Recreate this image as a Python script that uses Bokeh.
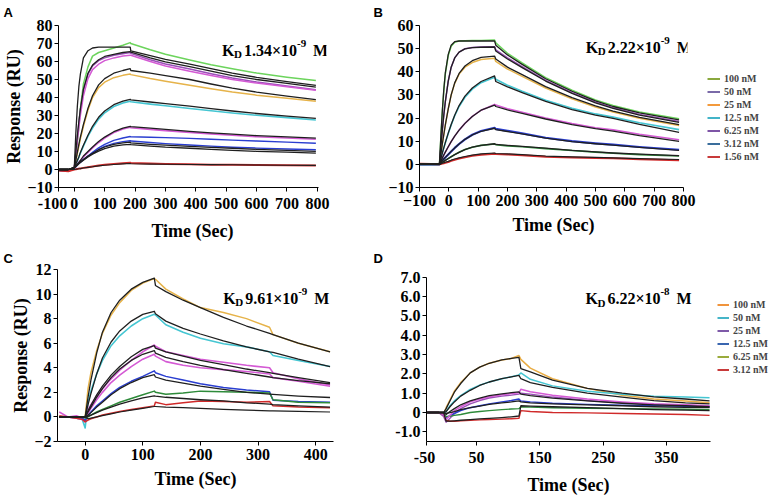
import numpy as np
from bokeh.plotting import figure
from bokeh.models import Range1d, FixedTicker, Label, Legend, LegendItem
from bokeh.layouts import row, column
from bokeh.embed import file_html
from bokeh.resources import INLINE

SERIF = "Liberation Serif"
SANS = "Liberation Sans"
FIT = "#1f1f1f"

# ---------------- Panel A  (KD 1.34e-9 M) ----------------
A_time = [-50, -20, 0, 5, 10, 15, 20, 30, 45, 60, 80, 100, 130, 160, 184,
          186, 250, 300, 380, 450, 520, 600, 700, 795]
A_100 = [-0.5, -0.8, 1, 7, 15, 24, 34, 47.5, 57, 63, 65, 66, 67.5, 69, 70.5,
         70, 66.5, 64, 60.8, 58.2, 56, 53.6, 51.3, 49.4]
A_100_fit = [0, 0, 1, 20, 35, 46, 53, 62, 66, 67.5, 68, 68, 68, 68, 68,
             65.9, 63.2, 61.2, 58.6, 56, 53.5, 51.2, 48.8, 46.7]
A_50 = [-0.5, -0.5, 1, 9, 18, 26, 33, 44, 53, 57.5, 60.5, 62, 63.5, 64.3, 65,
        64.5, 61, 58.6, 55.8, 53.2, 50.8, 48.6, 46.4, 44.3]
A_50_fit = [0, 0, 1, 9.5, 18.5, 26.5, 33.5, 44.5, 53.5, 58, 61, 62.8, 64, 65, 65.5,
            65.2, 62, 59.8, 57.2, 54.6, 52.2, 50, 47.8, 45.8]
A_50b = [-0.5, -0.5, 1, 8, 16, 23, 30, 41, 50.5, 55.5, 58.5, 60.5, 62, 63, 63.5,
         63.5, 60, 57.5, 54.6, 52.2, 50, 48, 46, 44]
A_25 = [-0.5, -0.5, 1, 5, 9, 13, 17, 24, 33, 40, 45.5, 48.5, 51, 52.3, 53,
        52.7, 50.5, 49, 46.8, 44.8, 43, 41.3, 39.6, 37.9]
A_25_fit = [0, 0, 1, 5, 9.5, 14, 18, 25, 34, 41, 47, 50.5, 53.5, 55, 56,
            55, 53.5, 52.2, 50, 47.5, 45.2, 43, 40.8, 38.8]
A_12 = [-0.5, -0.5, 1, 2.8, 4.8, 6.8, 9, 13, 18.5, 23, 28, 31.5, 35, 37, 37.9,
        37.6, 36.3, 35.4, 33.9, 32.6, 31.4, 30.1, 28.8, 27.5]
A_12_fit = [0, 0, 1, 3, 5, 7, 9.5, 13.5, 19, 24, 29, 32.5, 36, 38, 39,
            38.7, 37.5, 36.6, 35.2, 33.8, 32.5, 31.1, 29.7, 28.4]
A_6 = [-0.5, -0.5, 1, 2, 3, 4, 5, 7, 9.5, 12, 15, 17.5, 20.5, 22.5, 23.5,
       23.2, 22.3, 21.6, 20.6, 19.8, 19, 18.2, 17.5, 16.8]
A_6_fit = [0, 0, 1, 2, 3, 4, 5, 7.5, 10, 12.5, 15.5, 18, 21, 23, 24,
           23.8, 23, 22.3, 21.2, 20.4, 19.6, 18.8, 18.1, 17.4]
A_3 = [-0.5, -1, 0.5, 1.5, 2.5, 3.3, 4, 5.5, 7.5, 9.5, 12, 14, 16.2, 17.5, 18.3,
       18.2, 17.9, 17.7, 17.3, 16.8, 16.3, 15.8, 15.2, 14.6]
A_3b = [-0.5, -0.5, 0.5, 1.5, 2.5, 3.3, 4, 5.5, 7.3, 9, 11, 12.8, 14.5, 15.5, 16,
        15.8, 15, 14.4, 13.6, 13, 12.4, 11.9, 11.4, 11]
A_3_fit = [0, 0, 1, 1.8, 2.6, 3.4, 4.2, 5.6, 7.5, 9, 11, 12.5, 14, 14.8, 15.2,
           14.8, 14, 13.5, 12.9, 12.3, 11.8, 11.2, 10.6, 10.1]
A_3b_fit = [0, 0, 1, 1.7, 2.4, 3.2, 3.9, 5.2, 7, 8.5, 10.2, 11.6, 13, 13.7, 14,
            13.8, 13, 12.4, 11.8, 11.2, 10.6, 10.1, 9.6, 9.1]
A_1 = [-0.5, -1, 0, 0.1, 0.3, 0.5, 0.6, 0.9, 1.3, 1.7, 2.2, 2.6, 3.1, 3.5, 3.8,
       3.6, 3.3, 3.1, 2.9, 2.7, 2.6, 2.45, 2.3, 2.2]
A_1_fit = [0, 0, 0, 0.1, 0.3, 0.4, 0.5, 0.8, 1.2, 1.5, 2, 2.4, 2.8, 3.1, 3.3,
           3.2, 3, 2.9, 2.8, 2.7, 2.6, 2.5, 2.4, 2.3]

# ---------------- Panel B  (KD 2.22e-9 M) ----------------
B_time = [-100, -60, -32, -27, -22, -17, -12, -2, 8, 20, 35, 55, 80, 110, 156,
          160, 200, 250, 330, 420, 500, 560, 650, 785]
B_100 = [0, 0, 0, 12, 23, 32, 39, 47, 51, 52.8, 53.3, 53.4, 53.5, 53.5, 53.7,
         52.5, 48, 43.8, 37.5, 32, 27.8, 25.4, 22.6, 19.7]
B_100_fit = [0, 0, 0, 12.5, 23.5, 32.5, 39.5, 47.5, 51.5, 53, 53.3, 53.3, 53.3, 53.3, 53.3,
             51.5, 47.3, 43.2, 37, 31.6, 27.4, 25, 22.2, 19.2]
B_50 = [0, 0, 0, 8, 15, 21.5, 27, 36, 42, 46, 48.5, 50, 50.5, 50.7, 50.8,
        49.5, 46, 42.2, 36.3, 31, 26.9, 24.5, 21.6, 18.5]
B_50_fit = [0, 0, 0, 8, 15, 21.5, 27, 36, 42, 46, 48.5, 49.9, 50.4, 50.6, 50.7,
            49, 45.5, 41.8, 36, 30.7, 26.6, 24.2, 21.3, 18.1]
B_25 = [0, 0, 0, 4.5, 9, 13, 17, 24, 30, 35, 39, 42, 44, 45.3, 45.8,
        44.5, 41.2, 38, 33, 28.3, 24.8, 22.6, 19.9, 16.8]
B_25_fit = [0, 0, 0, 4.5, 9, 13, 17, 24, 30, 35.2, 39.3, 42.5, 44.8, 46.2, 46.8,
            45.5, 42, 38.8, 33.6, 28.8, 25.3, 23, 20.3, 17.2]
B_12 = [0, 0, 0, 2.5, 5, 7.2, 9.3, 13.3, 17, 21, 25, 29, 32.5, 35.3, 37.6,
        36.8, 34.2, 31.6, 27.7, 24.2, 21.8, 20.4, 18, 15]
B_12_fit = [0, 0, 0, 2.5, 5, 7.2, 9.4, 13.5, 17.2, 21.2, 25.4, 29.5, 33, 35.8, 38.2,
            35.8, 33.5, 31, 27.2, 23.7, 21.3, 19.9, 17.3, 13.8]
B_6 = [0, 0, 0, 1.4, 2.8, 4.1, 5.3, 7.6, 9.8, 12.2, 14.8, 17.7, 20.7, 23.4, 25.9,
       25.6, 24, 22.5, 20, 17.6, 15.8, 14.9, 13, 10.6]
B_6_fit = [0, 0, 0, 1.4, 2.8, 4.1, 5.3, 7.6, 9.8, 12.2, 14.8, 17.7, 20.7, 23.4, 25.6,
           25, 23.5, 22, 19.6, 17.2, 15.4, 14.4, 12.4, 9.9]
B_3 = [0, 0, 0, 0.8, 1.6, 2.3, 3, 4.3, 5.6, 7.1, 8.8, 10.8, 12.8, 14.4, 15.8,
       15.3, 14.5, 13.4, 11.5, 10, 9.1, 8.5, 7.5, 6.3]
B_3_fit = [0, 0, 0, 0.8, 1.6, 2.3, 3, 4.3, 5.6, 7.1, 8.8, 10.8, 12.7, 14.3, 15.6,
           15, 14.2, 13.2, 11.3, 9.8, 8.9, 8.3, 7.3, 6]
B_2 = [0, 0, 0, 0.45, 0.9, 1.3, 1.7, 2.5, 3.3, 4.2, 5.2, 6.4, 7.4, 8.2, 8.8,
       8.5, 8.0, 7.6, 6.8, 6.0, 5.3, 4.8, 4.2, 3.6]
B_2_fit = [0, 0, 0, 0.45, 0.9, 1.3, 1.7, 2.5, 3.3, 4.2, 5.2, 6.4, 7.4, 8.2, 8.9,
           8.6, 8.2, 7.8, 7, 6, 5.4, 4.9, 4.4, 3.8]
B_1 = [0.3, 0.2, 0, 0.1, 0.3, 0.5, 0.7, 1.0, 1.5, 2.0, 2.5, 3.1, 3.7, 4.2, 4.6,
       4.5, 4.3, 3.9, 3.3, 3.0, 2.7, 2.6, 2.2, 1.8]
B_1_fit = [0, 0, 0, 0.25, 0.5, 0.7, 0.9, 1.3, 1.8, 2.3, 2.8, 3.4, 4, 4.5, 4.9,
           4.7, 4.5, 4.2, 3.6, 3.2, 3, 2.8, 2.5, 2.1]
B_labels = ["100 nM", "50 nM", "25 nM", "12.5 nM", "6.25 nM", "3.12 nM", "1.56 nM"]
B_legend_colors = ["#8aa83e", "#7a6aa8", "#f39a3c", "#43b4c8", "#7e55a6", "#3a6e9c", "#c83a3a"]

# ---------------- Panel C  (KD 9.61e-9 M) ----------------
C_time = [-45, -30, -15, -5, 0, 5, 10, 20, 30, 45, 60, 80, 100, 120,
          122, 140, 170, 200, 240, 280, 320, 326, 370, 425]
C_y = [0, 0, 0, -0.1, 0, 2.3, 3.6, 5.4, 6.8, 8.3, 9.3, 10.3, 10.9, 11.26,
       11.2, 10.4, 9.6, 8.9, 8.5, 8.0, 7.3, 6.7, 6.0, 5.3]
C_y_fit = [0, 0, 0, 0, 0, 1.6, 3.0, 5.2, 6.9, 8.5, 9.5, 10.4, 10.95, 11.3,
           10.7, 10.2, 9.5, 8.9, 8.1, 7.4, 6.8, 6.7, 6.0, 5.3]
C_c = [0, 0, -0.1, -0.2, -0.9, 1.2, 2.1, 3.5, 4.6, 5.8, 6.6, 7.4, 8.0, 8.35,
       8.3, 7.5, 6.9, 6.4, 5.95, 5.7, 5.3, 5.0, 4.6, 4.1]
C_c_fit = [0, 0, 0, 0, 0, 1.0, 1.9, 3.5, 4.8, 6.1, 7.0, 7.8, 8.35, 8.6,
           8.4, 7.8, 7.2, 6.75, 6.2, 5.7, 5.3, 5.25, 4.7, 4.1]
C_m1 = [0.4, 0.0, 0.1, -0.1, -0.3, 0.6, 1.0, 1.7, 2.3, 3.1, 3.8, 4.6, 5.3, 5.85,
        5.75, 5.3, 5.0, 4.7, 4.45, 4.2, 4.0, 3.6, 3.1, 2.6]
C_m1_fit = [0, 0, 0, 0, 0, 0.5, 0.95, 1.8, 2.5, 3.4, 4.1, 4.9, 5.5, 5.8,
            5.6, 5.3, 4.95, 4.6, 4.25, 3.9, 3.6, 3.55, 3.2, 2.8]
C_m2 = [0, 0, -0.1, -0.2, -0.4, 0.3, 0.7, 1.4, 2.0, 2.8, 3.4, 4.1, 4.7, 5.1,
        4.95, 4.5, 4.2, 4.0, 3.85, 3.7, 3.5, 3.2, 2.9, 2.5]
C_m2_fit = [0, 0, 0, 0, 0, 0.4, 0.8, 1.6, 2.3, 3.2, 3.9, 4.6, 5.1, 5.4,
            5.2, 4.85, 4.5, 4.2, 3.85, 3.55, 3.25, 3.2, 2.95, 2.7]
C_b = [0, 0, 0, -0.1, -0.3, 0.1, 0.4, 0.9, 1.3, 1.9, 2.4, 2.9, 3.3, 3.75,
       3.6, 3.3, 3.0, 2.7, 2.4, 2.2, 2.05, 1.35, 1.25, 1.2]
C_b_fit = [0, 0, 0, 0, 0, 0.15, 0.35, 0.8, 1.2, 1.8, 2.3, 2.8, 3.2, 3.44,
           3.25, 3.0, 2.75, 2.5, 2.25, 2.0, 1.85, 1.83, 1.7, 1.58]
C_g = [0, 0, 0, 0, -0.1, 0, 0.15, 0.4, 0.6, 0.9, 1.2, 1.5, 1.8, 2.1,
       2.0, 1.85, 1.95, 2.1, 2.05, 2.0, 1.95, 1.4, 1.2, 1.15]
C_g_fit = [0, 0, 0, 0, 0, 0.05, 0.15, 0.35, 0.55, 0.8, 1.05, 1.3, 1.55, 1.72,
           1.7, 1.6, 1.5, 1.4, 1.3, 1.15, 1.05, 1.0, 0.9, 0.8]
C_r = [0.1, 0, -0.1, -0.2, -0.4, -0.25, -0.15, 0.0, 0.15, 0.3, 0.45, 0.6, 0.75, 0.9,
       1.2, 1.0, 1.15, 1.3, 1.25, 1.2, 1.25, 0.9, 0.8, 0.75]
C_r_fit = [0, 0, 0, 0, 0, -0.15, -0.1, 0.0, 0.1, 0.25, 0.4, 0.55, 0.7, 0.85,
           0.85, 0.8, 0.75, 0.7, 0.62, 0.55, 0.5, 0.49, 0.45, 0.4]

# ---------------- Panel D  (KD 6.22e-8 M) ----------------
D_time = [-28, -10, -2, 2, 8, 15, 25, 40, 55, 70, 90, 105, 117,
          120, 135, 170, 225, 280, 330, 380, 418]
D_100 = [0, 0, -0.1, 0.25, 0.65, 1.1, 1.55, 2.05, 2.35, 2.55, 2.72, 2.8, 2.95,
         2.75, 2.3, 1.75, 1.25, 0.9, 0.7, 0.6, 0.5]
D_100_fit = [0, 0, 0, 0.2, 0.6, 1.05, 1.5, 2.05, 2.35, 2.55, 2.72, 2.8, 2.86,
             2.27, 2.1, 1.68, 1.25, 1.0, 0.81, 0.7, 0.6]
D_50 = [0, 0, -0.1, 0.05, 0.35, 0.6, 0.88, 1.2, 1.42, 1.58, 1.75, 1.85, 1.95,
        2.05, 1.72, 1.38, 1.1, 0.95, 0.84, 0.8, 0.76]
D_50_fit = [0, 0, 0, 0.05, 0.3, 0.55, 0.85, 1.15, 1.4, 1.58, 1.75, 1.85, 1.92,
            1.75, 1.55, 1.3, 1.0, 0.8, 0.62, 0.5, 0.45]
D_25m = [0, 0, -0.1, -0.35, -0.15, 0.1, 0.3, 0.55, 0.7, 0.82, 0.92, 0.98, 1.02,
         1.2, 1.08, 0.9, 0.7, 0.55, 0.45, 0.4, 0.35]
D_25 = [0, 0, -0.2, -0.5, -0.3, -0.05, 0.2, 0.45, 0.62, 0.75, 0.85, 0.9, 0.95,
        1.0, 0.95, 0.8, 0.62, 0.5, 0.42, 0.38, 0.33]
D_25_fit = [0, 0, 0, -0.1, 0.05, 0.2, 0.4, 0.6, 0.75, 0.87, 0.97, 1.03, 1.07,
            0.95, 0.88, 0.75, 0.6, 0.48, 0.4, 0.35, 0.3]
D_12 = [0, 0, -0.05, -0.3, -0.15, -0.05, 0.1, 0.25, 0.35, 0.45, 0.55, 0.62, 0.7,
        0.6, 0.55, 0.48, 0.42, 0.38, 0.35, 0.32, 0.3]
D_12_fit = [0, 0, 0, -0.05, 0.0, 0.05, 0.15, 0.25, 0.33, 0.42, 0.5, 0.55, 0.6,
            0.55, 0.5, 0.45, 0.4, 0.35, 0.3, 0.27, 0.25]
D_6 = [0, 0, -0.1, -0.2, -0.2, -0.15, -0.1, 0.0, 0.05, 0.1, 0.15, 0.18, 0.2,
       0.3, 0.28, 0.25, 0.22, 0.2, 0.18, 0.17, 0.15]
D_6_fit = [0, 0, 0, -0.45, -0.45, -0.43, -0.4, -0.37, -0.33, -0.3, -0.26, -0.22, -0.18,
           0.35, 0.33, 0.3, 0.25, 0.2, 0.15, 0.12, 0.1]
D_3 = [0, 0, -0.1, -0.4, -0.45, -0.45, -0.43, -0.4, -0.38, -0.36, -0.34, -0.32, -0.3,
       0.1, 0.05, 0.0, -0.02, -0.05, -0.08, -0.1, -0.15]
D_labels = ["100 nM", "50 nM", "25 nM", "12.5 nM", "6.25 nM", "3.12 nM"]
D_legend_colors = ["#f0943c", "#45b5c8", "#7e5aa8", "#3a66b0", "#9aab3c", "#c83a3a"]

# tick labels
A_xticks = [-52, 0, 100, 200, 300, 400, 500, 600, 700, 800]
A_xlabels = {-52: "-100\u00a0\u00a0\u00a0"}
A_yticks = [-10, 0, 10, 20, 30, 40, 50, 60, 70, 80]
B_xticks = [-100, 0, 100, 200, 300, 400, 500, 600, 700, 800]
B_yticks = [-10, 0, 10, 20, 30, 40, 50, 60]
C_xticks = [0, 100, 200, 300, 400]
C_yticks = [-2, 0, 2, 4, 6, 8, 10, 12]
D_xticks = [-29, 50, 150, 250, 350]
D_xlabels = {-29: "-50\u00a0"}
D_yticks = [-1, 0, 1, 2, 3, 4, 5, 6, 7]
D_ylabels = {-1: "-1.0", 0: "0", 1: "1.0", 2: "2.0", 3: "3.0", 4: "4.0",
             5: "5.0", 6: "6.0", 7: "7.0"}


def panel(w, h, bl, br, bt, bb, xr, yr, xb, yb, xticks, yticks, letter, letter_off,
          letter_standoff, xover=None, yover=None, ytitle=None):
    p = figure(width=w, height=h, x_range=Range1d(*xr), y_range=Range1d(*yr),
               output_backend="svg", toolbar_location=None,
               min_border_left=bl, min_border_right=br,
               min_border_top=bt, min_border_bottom=bb)
    p.outline_line_color = None
    p.xgrid.visible = False
    p.ygrid.visible = False
    p.xaxis.ticker = FixedTicker(ticks=xticks)
    p.yaxis.ticker = FixedTicker(ticks=yticks)
    p.xaxis.bounds = xb
    p.yaxis.bounds = yb
    if xover:
        p.xaxis.major_label_overrides = xover
    if yover:
        p.yaxis.major_label_overrides = yover
    for ax in (p.xaxis[0], p.yaxis[0]):
        ax.axis_line_color = "black"
        ax.axis_line_width = 1
        ax.major_tick_line_color = "black"
        ax.major_tick_out = 4
        ax.major_tick_in = 0
        ax.minor_tick_line_color = None
        ax.major_label_text_font = SERIF
        ax.major_label_text_font_style = "bold"
        ax.major_label_text_font_size = "16px"
        ax.major_label_text_color = "black"
        ax.axis_label_text_font = SERIF
        ax.axis_label_text_font_style = "bold"
        ax.axis_label_text_font_size = "18px"
        ax.axis_label_text_color = "black"
    p.xaxis.major_label_standoff = 3
    p.yaxis.major_label_standoff = 2
    p.xaxis.axis_label = "Time (Sec)"
    p.xaxis.axis_label_standoff = 6
    p.yaxis.axis_label_standoff = 0
    if ytitle:
        p.yaxis.axis_label = ytitle
    p.title.text = letter
    p.title.align = "left"
    p.title.offset = letter_off
    p.title.vertical_align = "top"
    p.title.standoff = letter_standoff
    p.title.text_font = SANS
    p.title.text_font_style = "bold"
    p.title.text_font_size = "13px"
    p.title.text_color = "black"
    return p


def kd(p, x, y, mant, exp):
    kw = dict(x=x, y=y, text_font=SERIF, text_font_style="bold",
              text_color="black", text_baseline="alphabetic")
    p.add_layout(Label(text="K", text_font_size="16px", **kw))
    p.add_layout(Label(text="D", x_offset=12, y_offset=-4, text_font_size="11px", **kw))
    p.add_layout(Label(text=mant + "\u00d710", x_offset=22, text_font_size="16px", **kw))
    p.add_layout(Label(text=exp, x_offset=75, y_offset=7, text_font_size="11px", **kw))
    p.add_layout(Label(text="M", x_offset=91, text_font_size="16px", **kw))


def draw(p, t, series):
    rs = []
    for vals, color, lw in series:
        rs.append(p.line(t, vals, line_color=color, line_width=lw, line_join="round"))
    return rs


def legend_fig(w, h, bt, bb, labels, colors, loc, gw):
    q = figure(width=w, height=h, x_range=Range1d(0, 1), y_range=Range1d(0, 1),
               x_axis_type=None, y_axis_type=None,
               output_backend="svg", toolbar_location=None,
               min_border_left=0, min_border_right=0, min_border_top=bt, min_border_bottom=bb)
    q.outline_line_color = None
    q.grid.visible = False
    items = []
    for lab, col in zip(labels, colors):
        # legend key only: a single NaN point draws nothing in the frame
        r = q.line(x=np.array([np.nan]), y=np.array([np.nan]), line_color=col, line_width=2)
        items.append(LegendItem(label=lab, renderers=[r]))
    q.add_layout(Legend(items=items, location=loc, orientation="vertical",
                        border_line_color=None, background_fill_alpha=0,
                        label_text_font=SERIF, label_text_font_style="bold",
                        label_text_font_size="10px", glyph_width=gw, glyph_height=11,
                        label_height=11, spacing=2, label_standoff=4, padding=0, margin=0))
    return q


GREEN = "#6cd45c"
PURPLE = "#9a4fb8"
MAGENTA = "#d45ad4"
YELLOW = "#e6b34a"
CYAN = "#45c6d2"
BLUE = "#2a3ed0"
RED = "#d02a2a"
DGREEN = "#2e8b3a"
ORANGE = "#e9ad45"

# ---- A
pA = panel(372, 248, 58, 46, 23, 61, (-52, 830), (-10, 80), (-52, 803), (-10, 80),
           A_xticks, A_yticks, "A", -55, 8, xover=A_xlabels, ytitle="Response (RU)")
draw(pA, A_time, [(A_100, GREEN, 1.5), (A_50, PURPLE, 1.5), (A_50b, MAGENTA, 1.5),
                  (A_25, YELLOW, 1.5), (A_12, CYAN, 1.6), (A_6, MAGENTA, 1.6),
                  (A_3, BLUE, 1.4), (A_3b, BLUE, 1.4), (A_1, RED, 2.0)])
draw(pA, A_time, [(A_100_fit, FIT, 1.3), (A_50_fit, FIT, 1.3), (A_25_fit, FIT, 1.3),
                  (A_12_fit, FIT, 1.3), (A_6_fit, FIT, 1.3), (A_3_fit, FIT, 1.3),
                  (A_3b_fit, FIT, 1.3), (A_1_fit, FIT, 1.1)])
kd(pA, 486, 66.2, "1.34", "-9")

# ---- B
pB = panel(325, 248, 47, 10, 23, 61, (-100, 813.7), (-10, 60), (-100, 800), (-10, 60),
           B_xticks, B_yticks, "B", -46, 8)
draw(pB, B_time, [(B_100, GREEN, 1.5), (B_50, PURPLE, 1.5), (B_25, YELLOW, 1.5),
                  (B_12, CYAN, 1.6), (B_6, MAGENTA, 1.6), (B_3, BLUE, 2.2),
                  (B_1, RED, 2.0), (B_2, DGREEN, 1.6)])
draw(pB, B_time, [(B_100_fit, FIT, 1.3), (B_50_fit, FIT, 1.3), (B_25_fit, FIT, 1.3),
                  (B_12_fit, FIT, 1.3), (B_6_fit, FIT, 1.3), (B_3_fit, FIT, 1.3),
                  (B_2_fit, FIT, 1.3), (B_1_fit, FIT, 1.2)])
kd(pB, 466.5, 50.7, "2.22", "-9")
lB = legend_fig(83, 248, 23, 61, B_labels, B_legend_colors, (10, 25), 13)

# ---- C
pC = panel(372, 249, 57, 39, 19, 54, (-48, 431), (-2, 12), (-48, 431), (-2, 12),
           C_xticks, C_yticks, "C", -54, 4, ytitle="Response (RU)")
draw(pC, C_time, [(C_y, YELLOW, 1.5), (C_c, CYAN, 1.6), (C_m1, MAGENTA, 1.6),
                  (C_m2, MAGENTA, 1.6), (C_b, BLUE, 1.5), (C_g, DGREEN, 1.5), (C_r, RED, 1.5)])
draw(pC, C_time, [(C_y_fit, FIT, 1.3), (C_c_fit, FIT, 1.3), (C_m1_fit, FIT, 1.3),
                  (C_m2_fit, FIT, 1.3), (C_b_fit, FIT, 1.3), (C_g_fit, FIT, 1.3),
                  (C_r_fit, FIT, 1.2)])
kd(pC, 239.5, 9.67, "9.61", "-9")

# ---- D
pD = panel(342, 249, 54, 4, 19, 54, (-29, 419.5), (-1.5, 7.404), (-29, 419.5), (-1.5, 7.0),
           D_xticks, D_yticks, "D", -53, 4, xover=D_xlabels, yover=D_ylabels)
draw(pD, D_time, [(D_100, ORANGE, 1.5), (D_50, CYAN, 1.5), (D_25, PURPLE, 1.4),
                  (D_12, BLUE, 1.4), (D_6, DGREEN, 1.4), (D_3, RED, 1.4),
                  (D_25m, MAGENTA, 1.5)])
draw(pD, D_time, [(D_100_fit, FIT, 1.3), (D_50_fit, FIT, 1.3), (D_25_fit, FIT, 1.3),
                  (D_12_fit, FIT, 1.3), (D_6_fit, FIT, 1.3)])
kd(pD, 222, 5.89, "6.22", "-8")
lD = legend_fig(66, 249, 19, 54, D_labels, D_legend_colors, (3, 66), 12)

layout = column(row(pA, pB, lB), row(pC, pD, lD))
open("out.html", "w").write(file_html(layout, INLINE))
